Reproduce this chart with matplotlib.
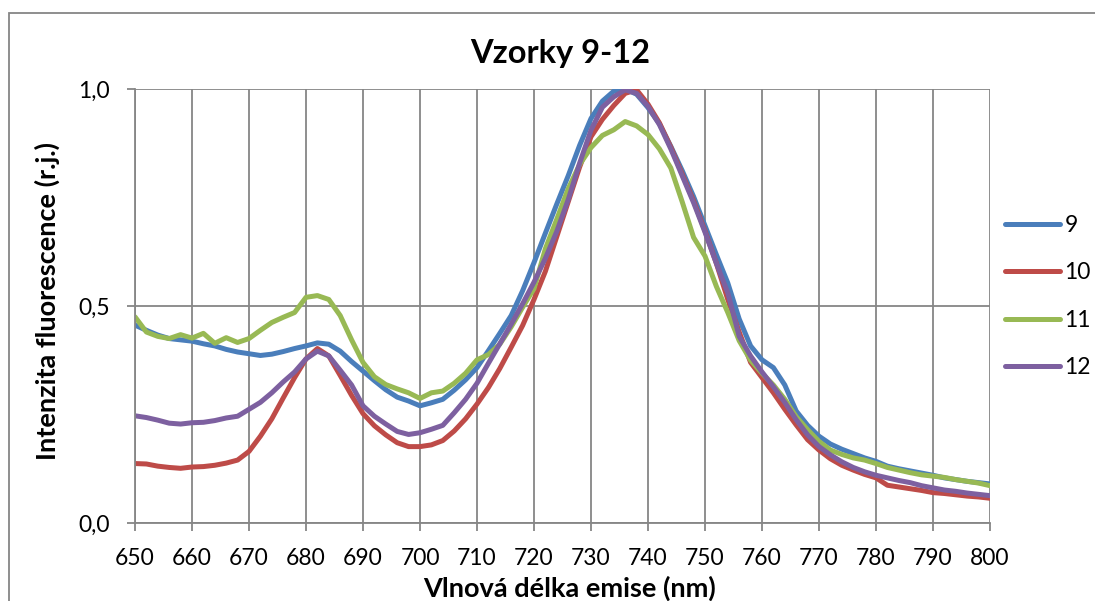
import matplotlib
matplotlib.use('Agg')
import matplotlib.pyplot as plt
from matplotlib.patches import Rectangle
import numpy as np

plt.rcParams['font.family'] = ['Lato', 'DejaVu Sans']

# vlnova delka (nm), krok 2 nm
wl = np.arange(650, 801, 2)

s9 = [0.456, 0.444, 0.433, 0.425, 0.422, 0.419, 0.413, 0.408, 0.400, 0.394,
      0.390, 0.386, 0.389, 0.395, 0.402, 0.408, 0.415, 0.412, 0.396, 0.372,
      0.350, 0.328, 0.307, 0.290, 0.281, 0.270, 0.277, 0.285, 0.306, 0.330,
      0.358, 0.397, 0.437, 0.478, 0.535, 0.600, 0.668, 0.735, 0.800, 0.870,
      0.932, 0.972, 0.995, 1.000, 0.988, 0.957, 0.920, 0.868, 0.812, 0.752,
      0.685, 0.618, 0.553, 0.470, 0.408, 0.376, 0.358, 0.318, 0.258, 0.225,
      0.200, 0.182, 0.170, 0.160, 0.150, 0.142, 0.131, 0.125, 0.120, 0.115,
      0.110, 0.104, 0.100, 0.096, 0.093, 0.090]

s10 = [0.137, 0.136, 0.131, 0.128, 0.126, 0.129, 0.130, 0.133, 0.138, 0.145,
       0.165, 0.200, 0.240, 0.288, 0.335, 0.378, 0.402, 0.385, 0.340, 0.294,
       0.252, 0.224, 0.203, 0.185, 0.176, 0.176, 0.180, 0.190, 0.212, 0.240,
       0.274, 0.312, 0.356, 0.405, 0.455, 0.515, 0.580, 0.660, 0.740, 0.820,
       0.890, 0.930, 0.962, 0.990, 0.998, 0.965, 0.922, 0.866, 0.804, 0.742,
       0.673, 0.598, 0.515, 0.440, 0.370, 0.335, 0.300, 0.262, 0.226, 0.192,
       0.168, 0.148, 0.133, 0.122, 0.112, 0.104, 0.087, 0.083, 0.079, 0.075,
       0.070, 0.068, 0.065, 0.062, 0.060, 0.057]

s11 = [0.475, 0.440, 0.430, 0.425, 0.434, 0.426, 0.437, 0.414, 0.427, 0.416,
       0.425, 0.444, 0.462, 0.474, 0.485, 0.520, 0.524, 0.515, 0.478, 0.422,
       0.370, 0.337, 0.319, 0.309, 0.300, 0.287, 0.300, 0.304, 0.322, 0.345,
       0.376, 0.388, 0.412, 0.452, 0.497, 0.540, 0.632, 0.700, 0.770, 0.826,
       0.865, 0.893, 0.906, 0.925, 0.915, 0.895, 0.862, 0.818, 0.740, 0.658,
       0.615, 0.545, 0.485, 0.420, 0.375, 0.345, 0.318, 0.285, 0.245, 0.215,
       0.188, 0.168, 0.158, 0.150, 0.145, 0.137, 0.128, 0.122, 0.116, 0.111,
       0.108, 0.105, 0.100, 0.096, 0.092, 0.086]

s12 = [0.247, 0.243, 0.237, 0.230, 0.228, 0.231, 0.232, 0.236, 0.242, 0.246,
       0.262, 0.278, 0.300, 0.325, 0.348, 0.378, 0.396, 0.385, 0.352, 0.318,
       0.270, 0.246, 0.228, 0.211, 0.204, 0.208, 0.216, 0.225, 0.254, 0.285,
       0.322, 0.368, 0.413, 0.458, 0.505, 0.555, 0.610, 0.672, 0.745, 0.829,
       0.905, 0.958, 0.982, 0.998, 0.990, 0.960, 0.918, 0.862, 0.800, 0.738,
       0.670, 0.598, 0.530, 0.430, 0.385, 0.348, 0.314, 0.278, 0.238, 0.203,
       0.176, 0.157, 0.141, 0.128, 0.118, 0.110, 0.104, 0.098, 0.093, 0.086,
       0.081, 0.076, 0.073, 0.069, 0.066, 0.063]

series = [('9', s9, '#4A7EBB'), ('10', s10, '#BE4B48'),
          ('11', s11, '#98B954'), ('12', s12, '#7D60A0')]

grid_c = '#868686'

fig = plt.figure(figsize=(10.95, 6.01), dpi=100)
ax = fig.add_axes([135/1095, 78/601, 855/1095, 434/601])

for name, vals, col in series:
    ax.plot(wl, vals, color=col, lw=3.6, label=name,
            solid_joinstyle='round', solid_capstyle='round')

ax.set_xlim(650, 800)
ax.set_ylim(0, 1)
ax.set_xticks(np.arange(650, 801, 10))
ax.set_yticks([0, 0.5, 1.0])
ax.set_yticklabels(['0,0', '0,5', '1,0'])
ax.grid(True, color=grid_c, lw=1.3)
ax.set_axisbelow(True)
for sp in ['top', 'right']:
    ax.spines[sp].set_visible(False)
for sp in ['left', 'bottom']:
    ax.spines[sp].set_color(grid_c)
    ax.spines[sp].set_linewidth(1.3)
ax.tick_params(axis='both', direction='out', color=grid_c, width=1.3,
               length=6, labelsize=16.5, pad=12)

fig.text(560/1095, 1 - 53/601, 'Vzorky 9-12', ha='center', va='center',
         fontsize=23.5, fontweight='bold')
fig.text(47/1095, 1 - 301/601, 'Intenzita fluorescence (r.j.)', ha='center',
         va='center', rotation=90, fontsize=19.5, fontweight='bold')
fig.text(570/1095, 1 - 588/601, 'Vlnová délka emise (nm)', ha='center',
         va='center', fontsize=19.5, fontweight='bold')

leg = ax.legend(loc='center left', bbox_to_anchor=(1005/1095, 1 - 296.5/601),
                bbox_transform=fig.transFigure, frameon=False, fontsize=16.5,
                handlelength=2.4, handletextpad=0.2, labelspacing=1.15,
                borderpad=0, borderaxespad=0)

fig.add_artist(Rectangle((9/1095, -0.05), 1.1, 1 - 13/601 + 0.05,
                         transform=fig.transFigure, fill=False,
                         edgecolor=grid_c, lw=1.3, clip_on=False))

fig.savefig('out.png', dpi=100)
